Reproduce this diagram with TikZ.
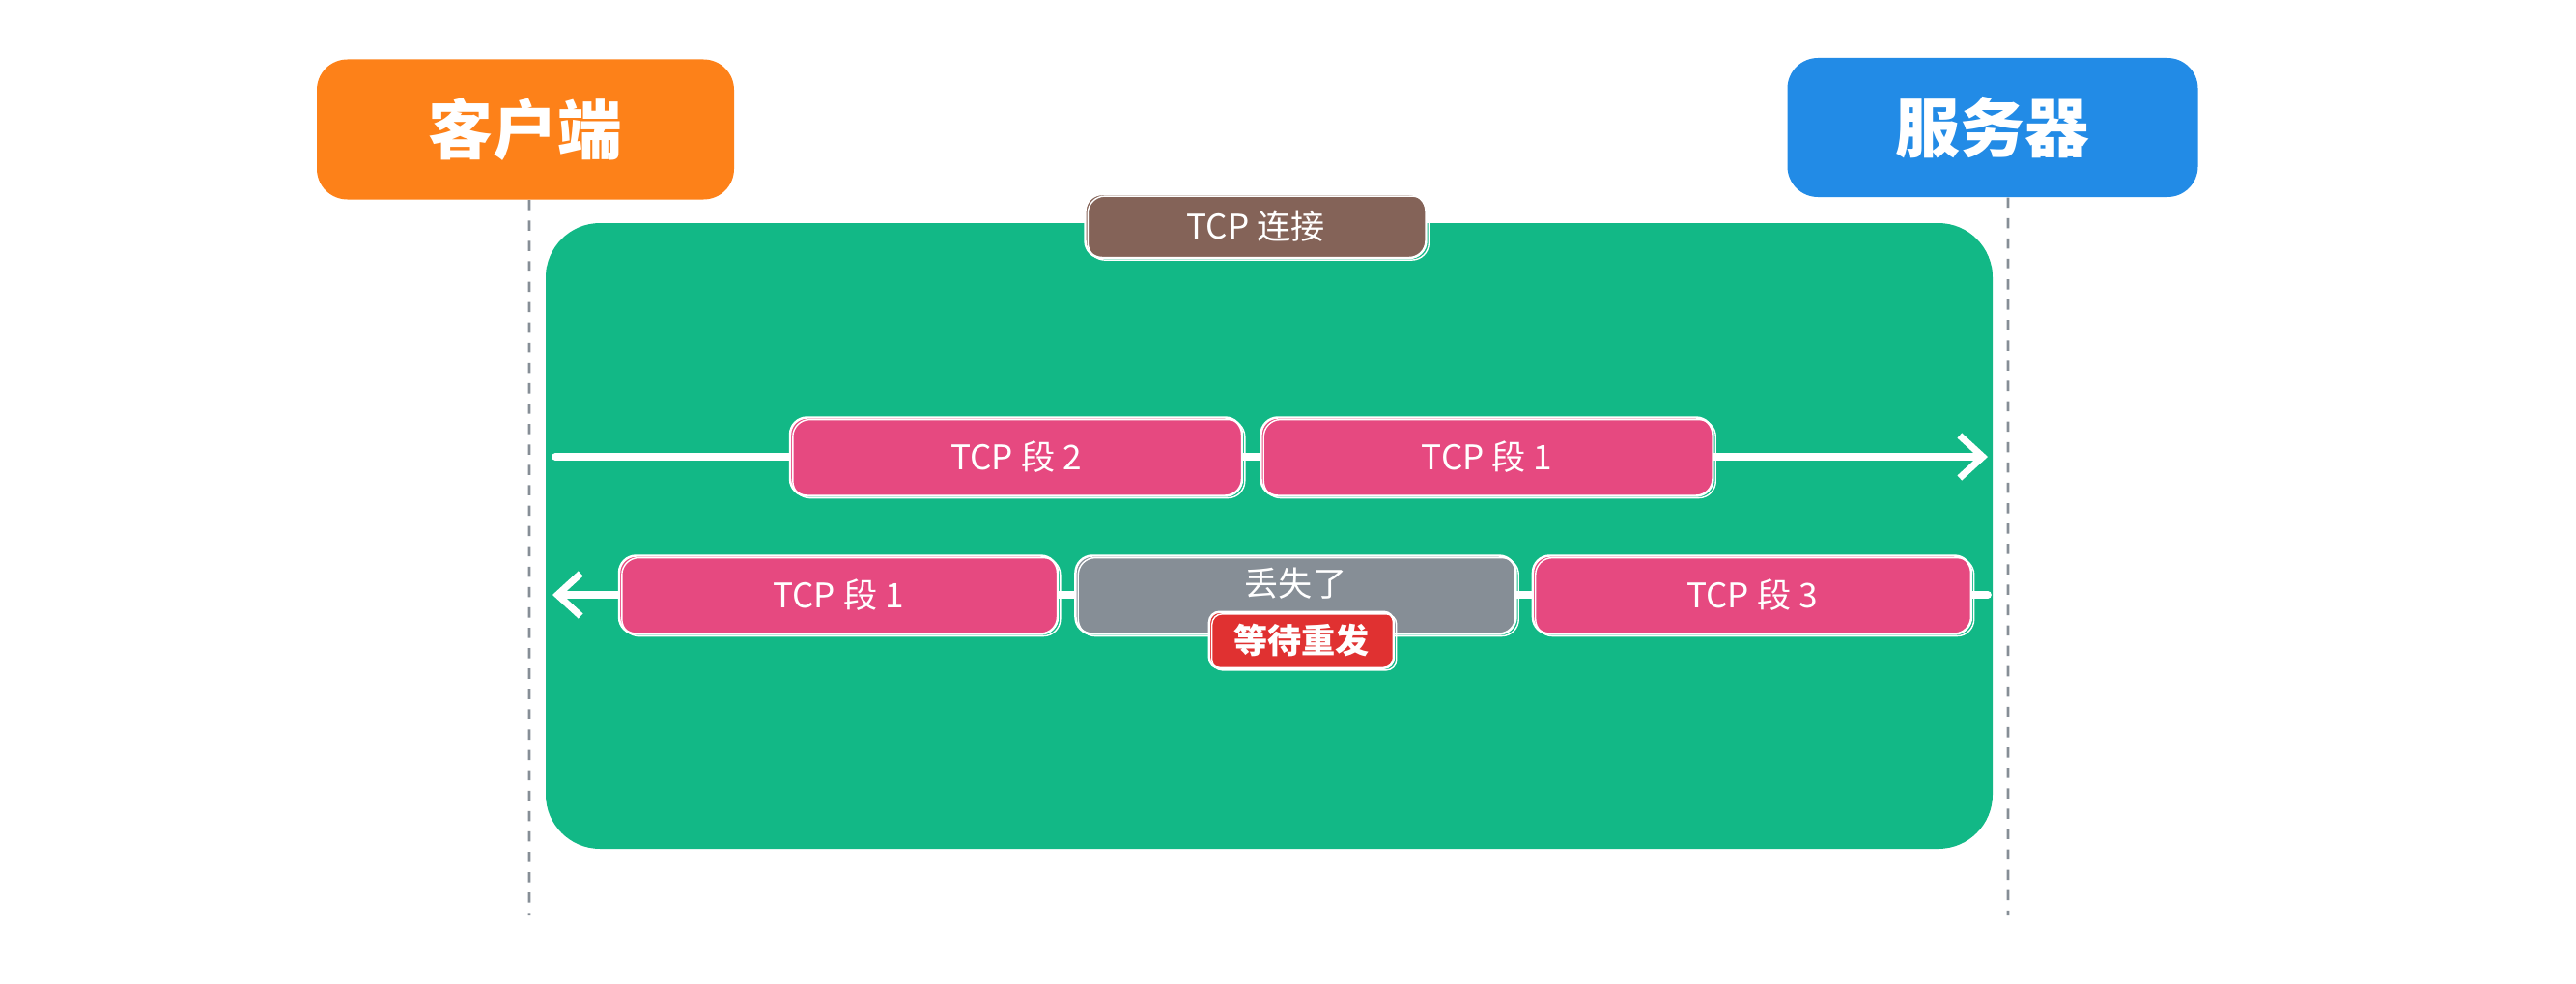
\documentclass[tikz,border=0pt]{standalone}
\usepackage{fontspec}
\usepackage{xcolor}
\usepackage{tikz}
\usetikzlibrary{arrows.meta, positioning}
\newfontfamily\cjk{Noto Sans CJK SC}
\definecolor{orangeclient}{HTML}{FD8119}
\definecolor{bleuserveur}{HTML}{228BE6}
\definecolor{vertfond}{HTML}{12B886}
\definecolor{brunlien}{HTML}{846358}
\definecolor{rosesegment}{HTML}{E64980}
\definecolor{grisperdu}{HTML}{868E96}
\definecolor{rougeattente}{HTML}{E03131}
\tikzset{
  acteur/.style={rectangle, rounded corners=9pt, text=white,
    font=\cjk\bfseries\fontsize{19}{22}\selectfont, align=center},
  croquis/.style={rectangle, rounded corners=5pt, draw=white, line width=0.7pt,
    text=white, font=\cjk\fontsize{10}{12}\selectfont, align=center,
    postaction={draw=white, line width=0.4pt,
      transform canvas={shift={(0.8pt,-0.6pt)}}}},
  segment/.style={croquis, fill=rosesegment, minimum height=8.1mm},
  fleche/.style={-{Straight Barb[length=2.4mm, width=4.4mm, line width=2pt]},
    line width=2.2pt, line cap=round, color=white},
  vie/.style={dashed, color=grisperdu, line width=0.8pt}
}
\begin{document}
\begin{tikzpicture}
    \useasboundingbox (0,0) rectangle (26.67,10.18);

    % acteurs
    \node[acteur, fill=orangeclient, minimum width=43.2mm, minimum height=14.5mm]
      (client) at (5.44,8.84) {客户端};
    \node[acteur, fill=bleuserveur, minimum width=42.5mm, minimum height=14.4mm]
      (serveur) at (20.63,8.86) {服务器};

    \coordinate (finclient) at (5.48,0.70);
    \coordinate (finserveur) at (20.79,0.70);
    \draw[vie] ([xshift=0.4mm]client.south) -- (finclient);
    \draw[vie] ([xshift=1.6mm]serveur.south) -- (finserveur);

    % connexion
    \node[rectangle, rounded corners=16pt, fill=vertfond, minimum width=149.8mm,
      minimum height=64.8mm] (tcp) at (13.14,4.63) {};
    \node[croquis, fill=brunlien, minimum width=35.3mm, minimum height=6.6mm]
      (conn) at (13.0,7.84) {TCP 连接};

    % aller
    \coordinate (allerA) at (5.75,5.45);
    \coordinate (allerB) at (20.58,5.45);
    \draw[fleche] (allerA) -- (allerB);
    \node[segment, minimum width=46.8mm] (seg2) at (10.52,5.45) {TCP 段 2};
    \node[segment, minimum width=46.8mm, right=1.7mm of seg2] (seg1) {TCP 段 1};

    % retour
    \coordinate (retourA) at (20.58,4.02);
    \coordinate (retourB) at (5.72,4.02);
    \draw[fleche] (retourA) -- (retourB);
    \node[segment, minimum width=45.4mm] (seg1r) at (8.68,4.02) {TCP 段 1};
    \node[croquis, fill=grisperdu, minimum width=45.6mm, minimum height=8.1mm,
      right=1.6mm of seg1r, text depth=2.6mm] (perdu) {丢失了};
    \node[segment, minimum width=45.4mm, right=1.5mm of perdu] (seg3) {TCP 段 3};
    \node[croquis, fill=rougeattente, rounded corners=3pt, minimum width=19.1mm,
      minimum height=5.8mm, font=\cjk\bfseries\fontsize{10}{12}\selectfont]
      (attente) at ([xshift=0.6mm, yshift=-0.5mm]perdu.south) {等待重发};
\end{tikzpicture}
\end{document}
